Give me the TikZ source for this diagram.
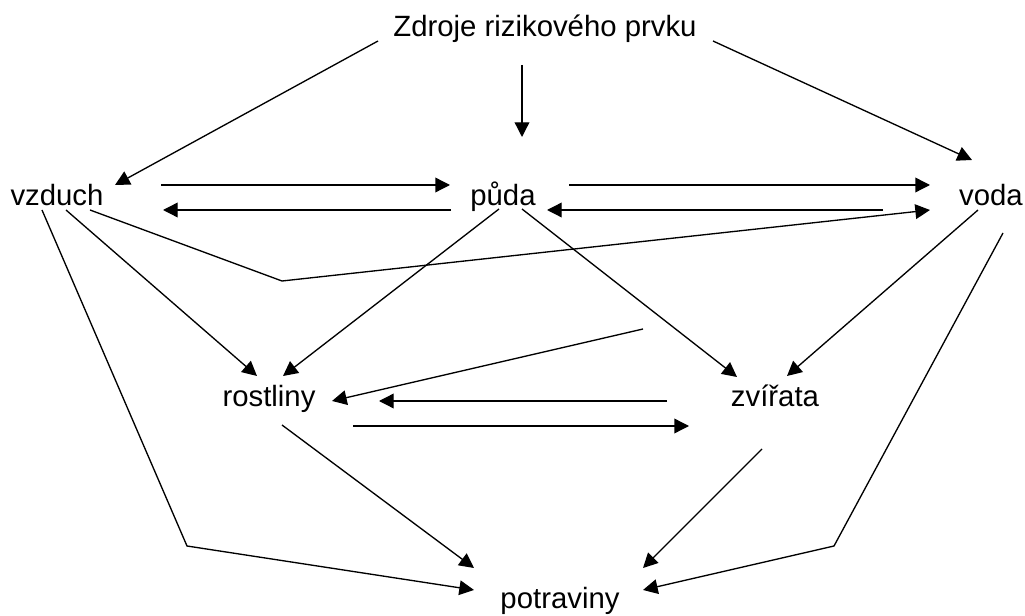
\documentclass[tikz,border=0pt]{standalone}
\usepackage{fontspec}
\setmainfont{Liberation Sans}
\usetikzlibrary{arrows.meta, positioning}

\begin{document}
\begin{tikzpicture}[
  x=0.75pt, y=-0.75pt,
  lbl/.style={anchor=base, inner sep=0pt, font=\fontsize{22}{26}\selectfont},
  arr/.style={-{Triangle[length=11pt, width=11pt]}, line width=1pt},
]
  \useasboundingbox (0,0) rectangle (1025,616);

  % labels
  \node[lbl] (zdroje)    at (545,37)  {Zdroje rizikového prvku};
  \node[lbl] (vzduch)    at (57,206)  {vzduch};
  \node[lbl] (puda)      at (503,206) {půda};
  \node[lbl] (voda)      at (991,206) {voda};
  \node[lbl] (rostliny)  at (269,407) {rostliny};
  \node[lbl] (zvirata)   at (775,407) {zvířata};
  \node[lbl] (potraviny) at (560,608) {potraviny};

  % connector ends
  \coordinate (zdroje-w) at (378,41);
  \coordinate (zdroje-s) at (522,65);
  \coordinate (zdroje-e) at (713,41);
  \coordinate (vzduch-n) at (115,185);
  \coordinate (vzduch-e1) at (161,185);
  \coordinate (vzduch-e2) at (163,210);
  \coordinate (vzduch-s1) at (42,210);
  \coordinate (vzduch-s2) at (66,210);
  \coordinate (vzduch-s3) at (90,210);
  \coordinate (puda-n) at (522,137);
  \coordinate (puda-w1) at (450,185);
  \coordinate (puda-w2) at (451,210);
  \coordinate (puda-e1) at (569,185);
  \coordinate (puda-e2) at (547,210);
  \coordinate (puda-s1) at (499,209);
  \coordinate (puda-s2) at (522,209);
  \coordinate (voda-n) at (972,160);
  \coordinate (voda-w1) at (930,185);
  \coordinate (voda-w2) at (883,210);
  \coordinate (voda-w3) at (930,210);
  \coordinate (voda-s1) at (978,210);
  \coordinate (voda-s2) at (1003,233);
  \coordinate (bend-vz) at (282,281);
  \coordinate (bend-l) at (187,546);
  \coordinate (bend-r) at (834,546);
  \coordinate (rost-n1) at (257,376);
  \coordinate (rost-n2) at (283,376);
  \coordinate (rost-e1) at (332,401);
  \coordinate (rost-e2) at (379,401);
  \coordinate (rost-e3) at (353,426);
  \coordinate (rost-s) at (282,425);
  \coordinate (free) at (643,329);
  \coordinate (zvir-n1) at (737,377);
  \coordinate (zvir-n2) at (787,376);
  \coordinate (zvir-w1) at (667,401);
  \coordinate (zvir-w2) at (689,426);
  \coordinate (zvir-s) at (762,449);
  \coordinate (potr-w1) at (474,568);
  \coordinate (potr-w2) at (474,590);
  \coordinate (potr-e1) at (643,568);
  \coordinate (potr-e2) at (643,590);

  % sources
  \draw[arr] (zdroje-w) -- (vzduch-n);
  \draw[arr] (zdroje-s) -- (puda-n);
  \draw[arr] (zdroje-e) -- (voda-n);

  % vzduch / puda / voda
  \draw[arr] (vzduch-e1) -- (puda-w1);
  \draw[arr] (puda-w2) -- (vzduch-e2);
  \draw[arr] (puda-e1) -- (voda-w1);
  \draw[arr] (voda-w2) -- (puda-e2);
  \draw[arr] (vzduch-s3) -- (bend-vz) -- (voda-w3);

  % to rostliny and zvirata
  \draw[arr] (vzduch-s2) -- (rost-n1);
  \draw[arr] (puda-s1) -- (rost-n2);
  \draw[arr] (puda-s2) -- (zvir-n1);
  \draw[arr] (voda-s1) -- (zvir-n2);
  \draw[arr] (free) -- (rost-e1);
  \draw[arr] (zvir-w1) -- (rost-e2);
  \draw[arr] (rost-e3) -- (zvir-w2);

  % to potraviny
  \draw[arr] (vzduch-s1) -- (bend-l) -- (potr-w2);
  \draw[arr] (rost-s) -- (potr-w1);
  \draw[arr] (zvir-s) -- (potr-e1);
  \draw[arr] (voda-s2) -- (bend-r) -- (potr-e2);
\end{tikzpicture}
\end{document}
